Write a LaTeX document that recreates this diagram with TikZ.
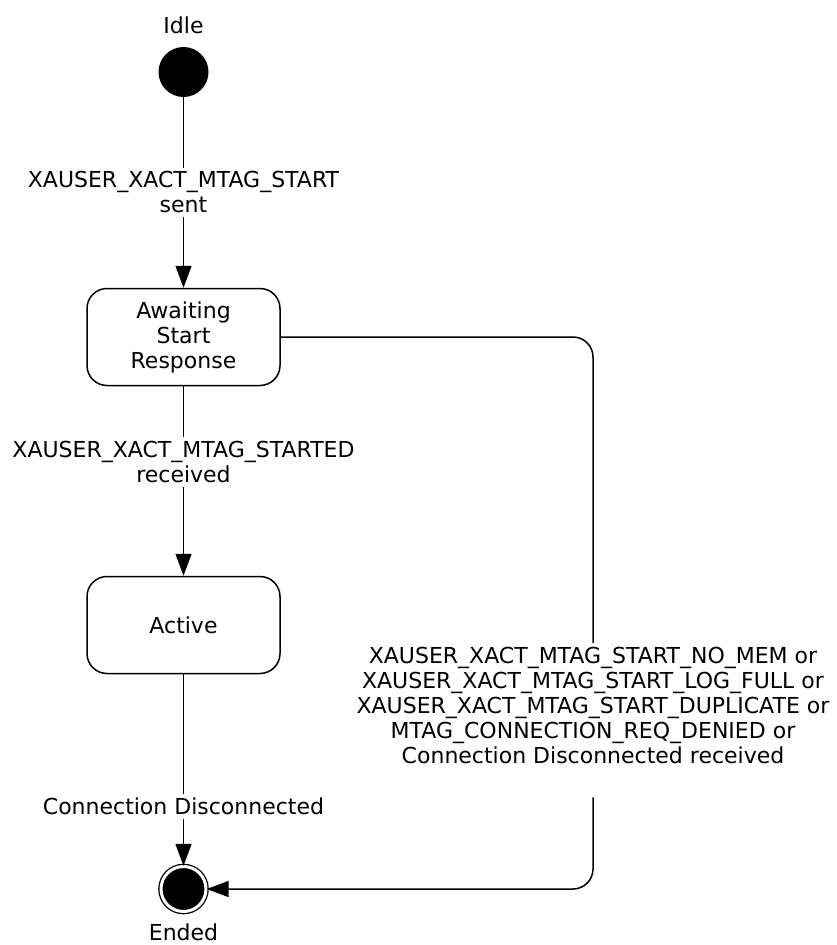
\documentclass[tikz,border=0pt]{standalone}
\usepackage{fontspec}
\setmainfont{DejaVu Sans}
\usetikzlibrary{arrows.meta,positioning,shapes}

\begin{document}
\begin{tikzpicture}[
    x=1pt, y=-1pt,
    font=\fontsize{22}{25}\selectfont,
    initial/.style={circle,fill=black,minimum size=50pt,inner sep=0pt},
    final/.style={circle,fill=black,draw=black,double=white,double distance=3pt,minimum size=45pt,inner sep=0pt,line width=1.3pt},
    state/.style={rectangle,rounded corners=20pt,minimum width=193pt,minimum height=97pt,text centered,align=center,draw=black,line width=1.5pt},
    arrow/.style={-{Triangle[length=22pt,width=16pt]},line width=1.5pt},
    trigger/.style={fill=white,align=center,inner sep=4pt}
]
\useasboundingbox (0,0) rectangle (837,945);

% Idle
\node[initial,label={[label distance=9pt]above:Idle}] (idle) at (183.5,72) {};

% Awaiting start response
\node[state] (awaiting) at (183.5,337) {Awaiting\\Start\\Response};

% Active
\node[state] (active) at (183.5,625) {Active};

% Ended
\node[final,label={[label distance=8pt]below:Ended}] (ended) at (183.5,889) {};
\coordinate (turn) at (593,889);

% Transitions
\draw[arrow] (idle) -- node[trigger] {XAUSER\_XACT\_MTAG\_START\\sent} (awaiting);
\draw[arrow] (awaiting) -- node[trigger,pos=0.4] {XAUSER\_XACT\_MTAG\_STARTED\\received} (active);
\draw[arrow] (active) -- node[trigger,pos=0.69] {Connection Disconnected} (ended);
\draw[arrow,rounded corners=20pt] (awaiting.east) -| node[trigger,pos=0.847] {XAUSER\_XACT\_MTAG\_START\_NO\_MEM or\\XAUSER\_XACT\_MTAG\_START\_LOG\_FULL or\\XAUSER\_XACT\_MTAG\_START\_DUPLICATE or\\MTAG\_CONNECTION\_REQ\_DENIED or\\Connection Disconnected received\rule[-30pt]{0pt}{1pt}} (turn) -- (ended);
\end{tikzpicture}
\end{document}
